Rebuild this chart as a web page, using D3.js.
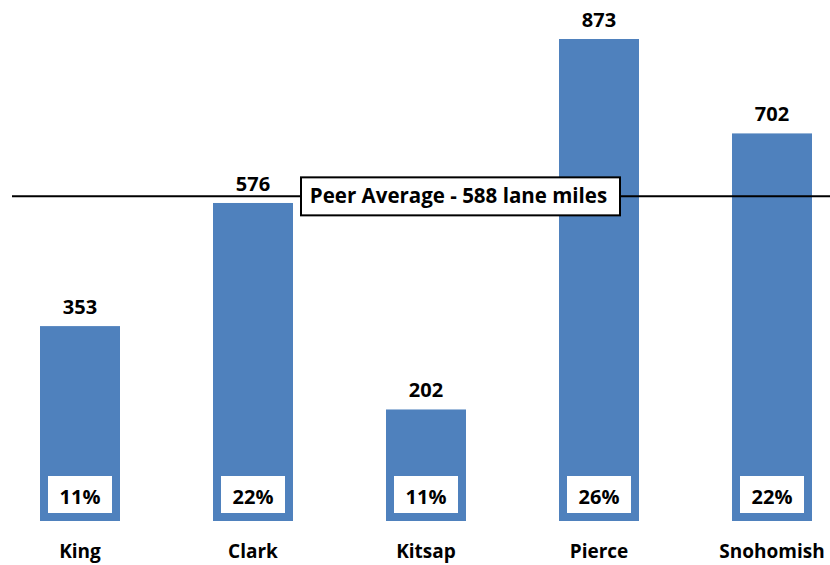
<!DOCTYPE html>
<html>
<head>
<meta charset="utf-8">
<script src="https://cdn.jsdelivr.net/npm/d3@7"></script>
<style>
  html, body { margin: 0; padding: 0; background: #fff; }
  svg { display: block; font-family: "Open Sans", Lato, sans-serif; font-weight: bold; }
</style>
</head>
<body>
<svg id="chart" width="830" height="565"></svg>
<script>
// Lane miles by county, with share labels and the peer average
const counties = ["King", "Clark", "Kitsap", "Pierce", "Snohomish"];
const laneMiles = [353, 576, 202, 873, 702];
const shareLabels = ["11%", "22%", "11%", "26%", "22%"];
const peerAverage = 588;
const peerLabel = "Peer Average - 588 lane miles";

const svg = d3.select("#chart");
const barColor = "#4F81BD";
const fontFamily = "'Open Sans', Lato, sans-serif";

const x = d3.scaleBand()
  .domain(counties)
  .range([-6.5, 858.5])
  .paddingInner(0.5376)
  .paddingOuter(0.2688);

const y = d3.scaleLinear()
  .domain([0, 873])
  .range([521, 39]);

const rows = counties.map((c, i) => ({ county: c, value: laneMiles[i], share: shareLabels[i] }));

// bars
svg.append("g").selectAll("rect")
  .data(rows)
  .join("rect")
  .attr("x", d => x(d.county))
  .attr("y", d => y(d.value))
  .attr("width", x.bandwidth())
  .attr("height", d => y(0) - y(d.value))
  .attr("fill", barColor);

// value labels above bars
svg.append("g").selectAll("text")
  .data(rows)
  .join("text")
  .attr("x", d => x(d.county) + x.bandwidth() / 2)
  .attr("y", d => y(d.value) - 12)
  .attr("text-anchor", "middle")
  .attr("font-size", 20)
  .attr("fill", "#000")
  .text(d => d.value);

// share boxes inside bar bottoms
const inset = 8, boxH = 37;
const shares = svg.append("g").selectAll("g")
  .data(rows)
  .join("g");
shares.append("rect")
  .attr("x", d => x(d.county) + inset)
  .attr("y", y(0) - inset - boxH)
  .attr("width", x.bandwidth() - 2 * inset)
  .attr("height", boxH)
  .attr("fill", "#fff");
shares.append("text")
  .attr("x", d => x(d.county) + x.bandwidth() / 2)
  .attr("y", y(0) - inset - boxH / 2 + 9)
  .attr("text-anchor", "middle")
  .attr("font-size", 20)
  .attr("fill", "#000")
  .text(d => d.share);

// category axis labels
const xAxis = svg.append("g")
  .attr("transform", `translate(0,${y(0)})`)
  .call(d3.axisBottom(x).tickSize(0).tickPadding(37));
xAxis.select(".domain").remove();
xAxis.selectAll("text")
  .attr("dy", "0")
  .attr("font-size", 19)
  .attr("font-family", fontFamily)
  .attr("font-weight", "bold")
  .attr("fill", "#000");

// peer average line and label
const py = y(peerAverage);
svg.append("line")
  .attr("x1", 12).attr("x2", 830)
  .attr("y1", py).attr("y2", py)
  .attr("stroke", "#000")
  .attr("stroke-width", 2);

const boxX = 301, boxW = 319, boxHt = 38;
svg.append("rect")
  .attr("x", boxX)
  .attr("y", py - boxHt / 2)
  .attr("width", boxW)
  .attr("height", boxHt)
  .attr("fill", "#fff")
  .attr("stroke", "#000")
  .attr("stroke-width", 2);
svg.append("text")
  .attr("x", boxX + boxW / 2 - 2)
  .attr("y", py + 7)
  .attr("text-anchor", "middle")
  .attr("font-size", 20.5)
  .attr("fill", "#000")
  .text(peerLabel);
</script>
</body>
</html>
